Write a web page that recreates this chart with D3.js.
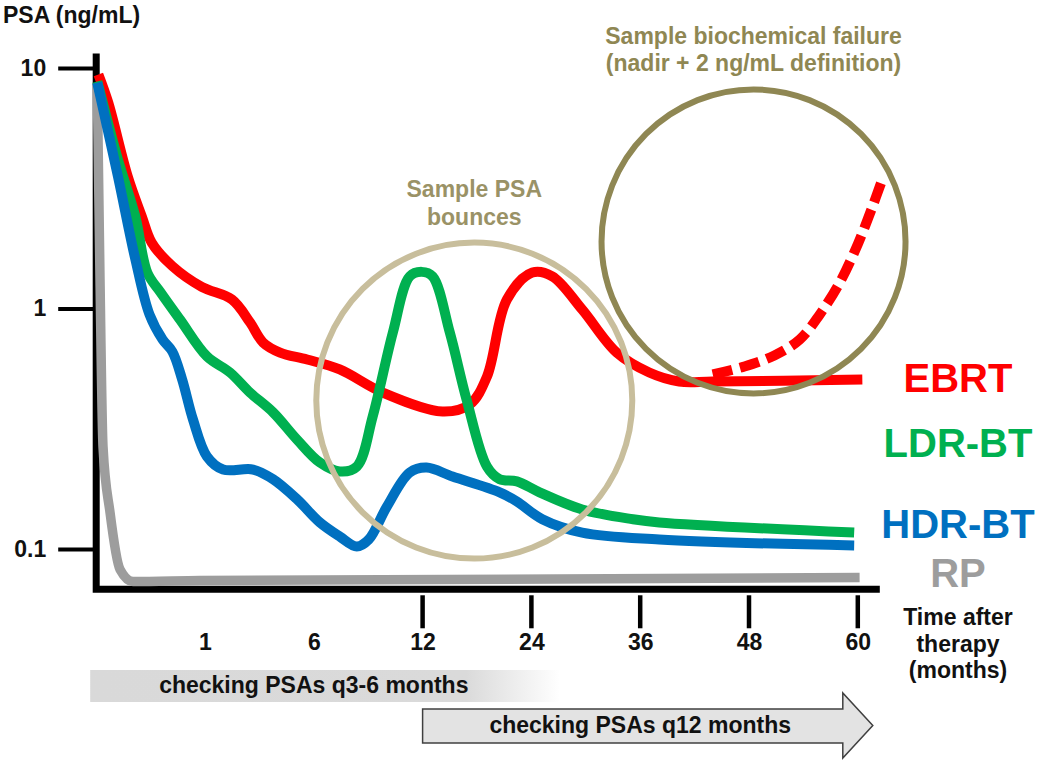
<!DOCTYPE html>
<html><head><meta charset="utf-8">
<script src="https://cdn.jsdelivr.net/npm/d3@7"></script>
<style>
body{margin:0;background:#fff}
svg{display:block}
text{font-family:"Liberation Sans",Arial,Helvetica,sans-serif;font-weight:bold}
</style></head>
<body><svg id="c" width="1040" height="764"></svg>
<script>
// ---------------- data ----------------
const xKnots = [0, 1, 6, 12, 24, 36, 48, 60];           // schematic, evenly spaced months
const xTickMonths = [1, 6, 12, 24, 36, 48, 60];
const xTickLabels = ["1", "6", "12", "24", "36", "48", "60"];
const xTickMarked = [12, 24, 36, 48, 60];
const yTicks = [10, 1, 0.1];
const yTickLabels = ["10", "1", "0.1"];

const seriesNames = ["EBRT", "LDR-BT", "HDR-BT", "RP"];

const ebrtMonths = [0.02,0.11,0.29,0.42,0.51,0.70,0.97,2.24,3.07,3.67,4.45,5.69,7.43,9.81,14.2,17.2,19.1,21.3,24.1,26.3,29.6,33.4,37.0,40.3,44.0,60.5];
const ebrtPSA    = [9.4,7.2,3.54,2.41,1.88,1.50,1.23,1.09,0.875,0.722,0.656,0.614,0.558,0.447,0.373,0.399,0.521,1.09,1.41,1.36,0.99,0.656,0.542,0.497,0.497,0.507];

const failMonths = [44.0,47.5,50.8,53.6,55.8,58.0,60.0,61.5,62.7];
const failPSA    = [0.532,0.574,0.638,0.743,0.944,1.28,1.85,2.58,3.44];

const ldrMonths = [0.01,0.2,0.36,0.47,0.59,0.77,1.09,2.15,3.07,4.13,5.23,6.33,7.43,8.37,9.25,10.36,11.29,11.95,13.1,15.0,16.85,19.1,20.5,22.4,24.9,29.6,35.2,38.1,59.6];
const ldrPSA    = [8.79,4.16,2.41,1.41,1.17,0.90,0.632,0.542,0.447,0.370,0.285,0.229,0.210,0.220,0.356,0.795,1.36,1.42,1.36,0.795,0.418,0.220,0.195,0.191,0.172,0.146,0.133,0.129,0.117];

const hdrMonths = [0.01,0.2,0.36,0.49,0.61,0.70,0.79,0.89,1.09,1.83,3.21,4.13,5.23,6.33,7.43,8.37,9.03,10.03,11.29,12.44,15.3,20.5,22.4,25.2,29.6,38.1,59.6];
const hdrPSA    = [8.7,3.54,1.60,0.944,0.743,0.662,0.507,0.345,0.2425,0.214,0.214,0.195,0.161,0.129,0.1127,0.1024,0.1095,0.150,0.208,0.218,0.200,0.172,0.1576,0.133,0.117,0.1095,0.1034];

const rpMonths = [0.01,0.035,0.0625,0.127,0.219,0.338,0.954,60.2];
const rpPSA    = [8.54,1.32,0.267,0.142,0.0822,0.0732,0.0739,0.0761];

const bounceCircle  = [17.7, 0.414];   // month, PSA of centre
const failureCircle = [48.5, 1.90];
const bounceText  = ["Sample PSA", "bounces"];
const failureText = ["Sample biochemical failure", "(nadir + 2 ng/mL definition)"];
const xTitle = ["Time after", "therapy", "(months)"];
const band1Text = "checking PSAs q3-6 months";
const band2Text = "checking PSAs q12 months";

// ---------------- layout / style ----------------
const svg = d3.select("#c");
const X0 = 96.2, STEP = 108.8;
const x = d3.scaleLinear().domain(xKnots).range(xKnots.map((d, i) => X0 + i * STEP));
const y = d3.scaleLog().domain([0.1, 10]).range([549, 68]);
const colors = {EBRT: "#ff0000", "LDR-BT": "#00b050", "HDR-BT": "#0070c0", RP: "#9d9d9d"};
const FS = 23;

const zip = (a, b) => a.map((d, i) => [d, b[i]]);
const line = d3.line().x(d => x(d[0])).y(d => y(d[1])).curve(d3.curveCatmullRom.alpha(0.5));
const lineMono = d3.line().x(d => x(d[0])).y(d => y(d[1])).curve(d3.curveMonotoneX);

const defs = svg.append("defs");
const g1 = defs.append("linearGradient").attr("id", "fade").attr("x1", 0).attr("x2", 1).attr("y1", 0).attr("y2", 0);
g1.append("stop").attr("offset", 0).attr("stop-color", "#d9d9d9");
g1.append("stop").attr("offset", 0.8).attr("stop-color", "#dadada");
g1.append("stop").attr("offset", 1).attr("stop-color", "#ffffff");

// y title
svg.append("text").attr("x", 3).attr("y", 23).attr("font-size", FS).attr("fill", "#111").text("PSA (ng/mL)");

// axes lines
const yTop = y(11.5), yBot = y(0.068), xRight = x(60) + 22;
svg.append("path")
  .attr("d", `M${X0},${yTop}V${yBot}H${xRight}`)
  .attr("fill", "none").attr("stroke", "#000").attr("stroke-width", 7)
  .attr("stroke-linejoin", "miter");

// y axis ticks
const yAxis = svg.append("g").attr("transform", `translate(${X0},0)`)
  .call(d3.axisLeft(y).tickValues(yTicks).tickFormat((d, i) => yTickLabels[i]).tickSize(38).tickPadding(12));
yAxis.select(".domain").remove();
yAxis.selectAll(".tick line").attr("stroke", "#000").attr("stroke-width", 4);
yAxis.selectAll(".tick text").attr("font-size", FS).attr("fill", "#111")
  .style("font-family", '"Liberation Sans",Arial,sans-serif').style("font-weight", "bold");

// x axis labels
const xAxisY = yBot;
const xAxis = svg.append("g").attr("transform", `translate(0,${xAxisY})`)
  .call(d3.axisBottom(x).tickValues(xTickMonths).tickFormat((d, i) => xTickLabels[i]).tickSize(0).tickPadding(44.5));
xAxis.select(".domain").remove();
xAxis.selectAll(".tick line").remove();
xAxis.selectAll(".tick text").attr("font-size", FS).attr("fill", "#111")
  .style("font-family", '"Liberation Sans",Arial,sans-serif').style("font-weight", "bold");
svg.append("g").selectAll("line").data(xTickMarked).join("line")
  .attr("x1", d => x(d)).attr("x2", d => x(d))
  .attr("y1", xAxisY + 6).attr("y2", xAxisY + 39)
  .attr("stroke", "#000").attr("stroke-width", 4.5);

// x title
svg.append("text").attr("font-size", FS).attr("fill", "#111").attr("text-anchor", "middle")
  .selectAll("tspan").data(xTitle).join("tspan")
  .attr("x", 958).attr("y", (d, i) => 625 + i * 26.5).text(d => d);

// series lines
const lines = svg.append("g").attr("fill", "none").attr("stroke-linecap", "butt").attr("stroke-linejoin", "round");
lines.append("path").attr("d", lineMono(zip(rpMonths, rpPSA))).attr("stroke", colors.RP).attr("stroke-width", 9.5);
lines.append("path").attr("d", line(zip(ebrtMonths, ebrtPSA))).attr("stroke", colors.EBRT).attr("stroke-width", 10);
lines.append("path").attr("d", line(zip(failMonths, failPSA))).attr("stroke", colors.EBRT).attr("stroke-width", 10)
  .attr("stroke-dasharray", "20,8");
lines.append("path").attr("d", line(zip(ldrMonths, ldrPSA))).attr("stroke", colors["LDR-BT"]).attr("stroke-width", 10);
lines.append("path").attr("d", line(zip(hdrMonths, hdrPSA))).attr("stroke", colors["HDR-BT"]).attr("stroke-width", 10);

// circles
const R1 = 158, R2 = 152;
const bc = [x(bounceCircle[0]), y(bounceCircle[1])];
const fc = [x(failureCircle[0]), y(failureCircle[1])];
svg.append("circle").attr("cx", bc[0]).attr("cy", bc[1]).attr("r", R1)
  .attr("fill", "none").attr("stroke", "#c8be9c").attr("stroke-width", 6);
svg.append("circle").attr("cx", fc[0]).attr("cy", fc[1]).attr("r", R2)
  .attr("fill", "none").attr("stroke", "#8f8753").attr("stroke-width", 6);

svg.append("text").attr("font-size", FS).attr("fill", "#9a9266").attr("text-anchor", "middle")
  .selectAll("tspan").data(bounceText).join("tspan")
  .attr("x", bc[0]).attr("y", (d, i) => bc[1] - R1 - 18 - (bounceText.length - 1 - i) * 28).text(d => d);
svg.append("text").attr("font-size", FS).attr("fill", "#8f8753").attr("text-anchor", "middle")
  .selectAll("tspan").data(failureText).join("tspan")
  .attr("x", fc[0]).attr("y", (d, i) => fc[1] - R2 - 18 - (failureText.length - 1 - i) * 27).text(d => d);

// series labels
const labelBaselines = [392, 457, 538, 587];
svg.append("g").selectAll("text").data(seriesNames).join("text")
  .attr("x", 958).attr("y", (d, i) => labelBaselines[i]).attr("text-anchor", "middle")
  .attr("font-size", 40).attr("fill", d => colors[d]).text(d => d);

// bottom bands
svg.append("rect").attr("x", X0 - 6).attr("y", 670).attr("width", 470).attr("height", 32).attr("fill", "url(#fade)");
svg.append("text").attr("x", x(6)).attr("y", 693).attr("text-anchor", "middle").attr("font-size", FS).attr("fill", "#111").text(band1Text);

const ax0 = x(12), ax1 = x(60) - 15, axTip = x(60) + 15;
svg.append("path")
  .attr("d", `M${ax0},709H${ax1}V693L${axTip},725.5L${ax1},758V743H${ax0}Z`)
  .attr("fill", "#e3e3e3").attr("stroke", "#404040").attr("stroke-width", 1.5);
svg.append("text").attr("x", x(36)).attr("y", 733).attr("text-anchor", "middle").attr("font-size", FS).attr("fill", "#111").text(band2Text);
</script>
</body></html>
